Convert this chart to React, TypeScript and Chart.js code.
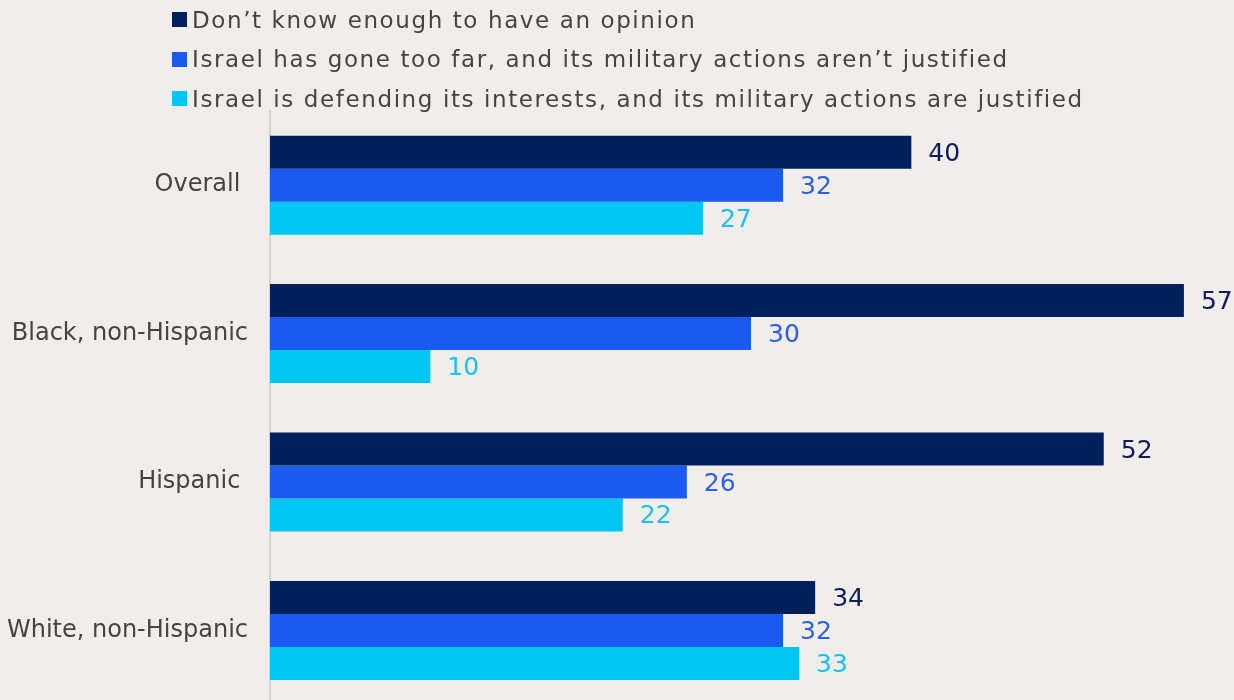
import React, { useEffect, useRef } from "react";
import { Chart, registerables } from "chart.js";

Chart.register(...registerables);

const categories = ["Overall ", "Black, non-Hispanic", "Hispanic ", "White, non-Hispanic"];
const seriesNames = [
  "Don\u2019t know enough to have an opinion",
  "Israel has gone too far, and its military actions aren\u2019t justified",
  "Israel is defending its interests, and its military actions are justified",
];
const dontKnow = [40, 57, 52, 34];
const tooFar = [32, 30, 26, 32];
const defending = [27, 10, 22, 33];
const barColors = ["#00205c", "#1a5aee", "#00c6f4"];
const labelColors = ["#101c5c", "#2a5fe8", "#1cc0f0"];
const xMax = 60;

const FONT = "'DejaVu Sans', sans-serif";
const BG = "#f0edea";

const valueLabels = {
  id: "valueLabels",
  afterDatasetsDraw(chart: any) {
    const ctx = chart.ctx;
    ctx.save();
    ctx.font = `25px ${FONT}`;
    ctx.textBaseline = "middle";
    ctx.textAlign = "left";
    chart.data.datasets.forEach((ds: any, i: number) => {
      const meta = chart.getDatasetMeta(i);
      meta.data.forEach((el: any, j: number) => {
        ctx.fillStyle = labelColors[i];
        ctx.fillText(String(ds.data[j]), el.x + 17, el.y + 2);
      });
    });
    ctx.restore();
  },
};

export default function App() {
  const ref = useRef<HTMLCanvasElement>(null);
  useEffect(() => {
    document.body.style.margin = "0";
    document.body.style.background = BG;
    const chart = new Chart(ref.current!, {
      type: "bar",
      data: {
        labels: categories,
        datasets: [dontKnow, tooFar, defending].map((d, i) => ({
          label: seriesNames[i],
          data: d,
          backgroundColor: barColors[i],
          categoryPercentage: 0.667,
          barPercentage: 1,
        })),
      },
      options: {
        indexAxis: "y",
        animation: false,
        responsive: false,
        layout: { padding: { top: 111, right: 2, bottom: 0, left: 0 } },
        plugins: { legend: { display: false }, tooltip: { enabled: false } },
        scales: {
          x: { display: false, min: 0, max: xMax },
          y: {
            afterFit(scale: any) {
              scale.width = 270;
            },
            grid: { display: false, drawTicks: false },
            border: { display: true, color: "#d4d2cf", width: 2 },
            ticks: { color: "#444444", font: { family: FONT, size: 24 }, padding: 22 },
          },
        },
      },
      plugins: [valueLabels],
    });
    return () => chart.destroy();
  }, []);

  return (
    <div style={{ position: "relative", width: 1234, height: 741, background: BG, fontFamily: FONT }}>
      <div style={{ position: "absolute", left: 172, top: 0 }}>
        {seriesNames.map((n, i) => (
          <div key={n} style={{ display: "flex", alignItems: "center", height: 39.5 }}>
            <span style={{ display: "inline-block", width: 15, height: 15, background: barColors[i], marginRight: 5 }} />
            <span style={{ fontSize: 23, color: "#444444", whiteSpace: "nowrap", letterSpacing: "1.6px" }}>{n}</span>
          </div>
        ))}
      </div>
      <canvas ref={ref} width={1234} height={741} style={{ display: "block" }} />
    </div>
  );
}
